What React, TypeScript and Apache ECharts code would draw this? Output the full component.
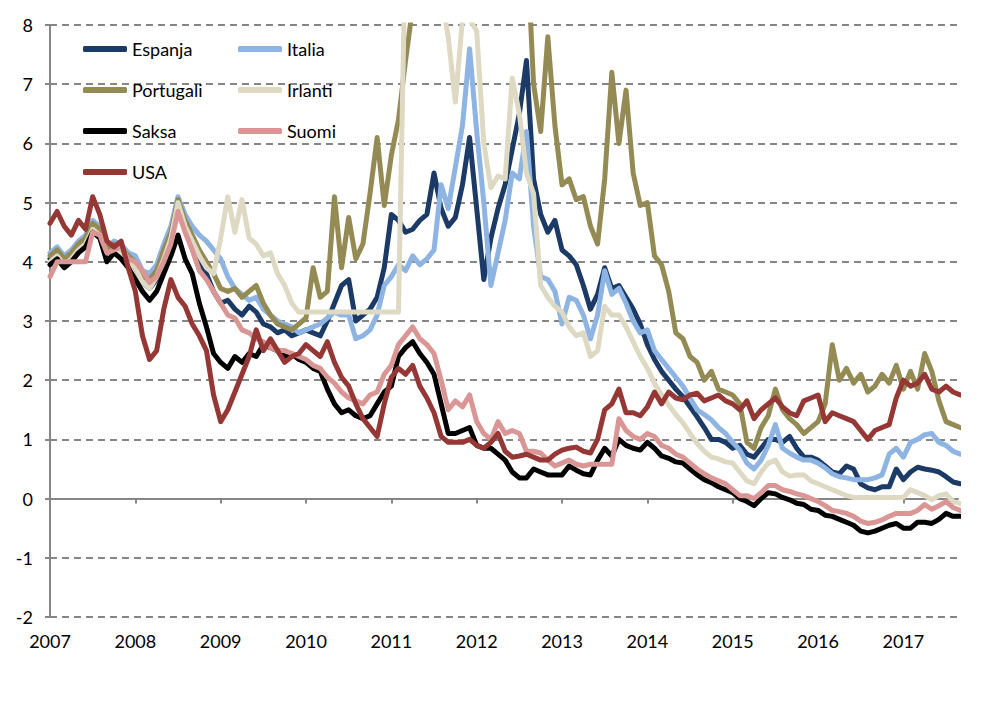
import React, { useEffect, useRef } from "react";
import * as echarts from "echarts";

// Monthly observation dates (decimal years), Jan 2007 .. Sep 2017
const months: number[] = Array.from({ length: 129 }, (_, i) => 2007 + i / 12);
const yearTicks: number[] = [2007, 2008, 2009, 2010, 2011, 2012, 2013, 2014, 2015, 2016, 2017];

const espanja: number[] = [
  4.05, 4.15, 4.0, 4.1, 4.25, 4.35, 4.6, 4.5, 4.1, 4.25, 4.15, 4.0,
  3.9, 3.65, 3.55, 3.7, 4.0, 4.35, 4.95, 4.55, 4.35, 4.0, 3.8, 3.5,
  3.3, 3.35, 3.2, 3.1, 3.25, 3.15, 2.95, 2.9, 2.8, 2.85, 2.75, 2.8,
  2.85, 2.8, 2.75, 3.0, 3.3, 3.6, 3.7, 3.0, 3.1, 3.2, 3.4, 3.9,
  4.8, 4.7, 4.5, 4.55, 4.7, 4.8, 5.5, 4.9, 4.6, 4.75, 5.3, 6.1,
  4.9, 3.7, 4.4, 4.9, 5.3, 5.9, 6.5, 7.4, 5.4, 4.8, 4.5, 4.7,
  4.2, 4.1, 3.95, 3.6, 3.2, 3.45, 3.9, 3.55, 3.6, 3.4, 3.2, 2.95,
  2.6, 2.35, 2.15, 2.0, 1.85, 1.72, 1.55, 1.38, 1.2, 1.0, 1.0, 0.95,
  0.85, 0.9, 0.75, 0.7, 0.85, 1.0, 1.0, 0.95, 1.05, 0.85, 0.7, 0.7,
  0.65, 0.55, 0.45, 0.42, 0.55, 0.5, 0.25, 0.18, 0.15, 0.2, 0.2, 0.5,
  0.32, 0.45, 0.53, 0.5, 0.48, 0.45, 0.37, 0.28, 0.25,
];

const italia: number[] = [
  4.15, 4.25, 4.1, 4.2, 4.35, 4.45, 4.7, 4.6, 4.25, 4.35, 4.3, 4.15,
  4.1, 3.85, 3.8, 3.95, 4.3, 4.6, 5.1, 4.8, 4.6, 4.45, 4.35, 4.2,
  4.05, 3.75, 3.55, 3.45, 3.35, 3.4, 3.2, 3.1, 3.0, 2.95, 2.9, 2.8,
  2.85, 2.9, 2.95, 3.05, 3.15, 3.1, 3.1, 2.7, 2.75, 2.85, 3.1, 3.6,
  3.75, 3.95, 3.85, 4.1, 3.95, 4.05, 4.2, 5.3, 4.9, 5.6, 6.3, 7.6,
  6.2, 5.0, 3.6, 4.15, 4.7, 5.5, 5.4, 6.2, 4.6, 3.75, 3.7, 3.5,
  2.95, 3.4, 3.35, 3.1, 2.7, 3.1, 3.85, 3.45, 3.55, 3.3, 3.0, 2.8,
  2.85, 2.5, 2.35, 2.2, 2.05, 1.9, 1.7, 1.5, 1.42, 1.33, 1.2, 1.1,
  0.95, 0.82, 0.6, 0.5, 0.65, 0.9, 1.25, 0.85, 0.77, 0.7, 0.65, 0.65,
  0.6, 0.52, 0.42, 0.37, 0.35, 0.32, 0.32, 0.32, 0.35, 0.4, 0.75, 0.85,
  0.7, 0.95, 1.0, 1.08, 1.1, 0.95, 0.9, 0.8, 0.75,
];

const portugali: number[] = [
  4.1, 4.2, 4.05, 4.15, 4.3, 4.4, 4.65, 4.55, 4.2, 4.3, 4.25, 4.1,
  4.0, 3.75, 3.7, 3.85, 4.2, 4.5, 5.05, 4.7, 4.45, 4.2, 4.0, 3.8,
  3.55, 3.5, 3.55, 3.4, 3.5, 3.6, 3.3, 3.1, 2.95, 2.9, 2.85, 2.95,
  3.05, 3.9, 3.4, 3.5, 5.1, 3.9, 4.75, 4.05, 4.3, 5.15, 6.1, 4.95,
  5.8, 6.4, 7.4, 8.3, 9.5, 10.5, 11, 12, 12, 12, 13, 13,
  14, 13, 12, 11, 11, 10, 11, 9.5, 7.0, 6.2, 7.8, 6.3,
  5.3, 5.4, 5.05, 5.1, 4.6, 4.3, 5.4, 7.2, 6.0, 6.9, 5.5, 4.95,
  5.0, 4.1, 3.95, 3.5, 2.8, 2.7, 2.4, 2.3, 2.0, 2.15, 1.85, 1.8,
  1.75, 1.6, 0.95, 0.85, 1.2, 1.4, 1.85, 1.5, 1.35, 1.25, 1.1, 1.2,
  1.3, 1.6, 2.6, 2.0, 2.2, 1.95, 2.1, 1.8, 1.9, 2.1, 1.95, 2.25,
  1.85, 2.15, 1.85, 2.45, 2.15, 1.65, 1.3, 1.25, 1.2,
];

const irlanti: number[] = [
  4.0, 4.1, 3.95, 4.05, 4.2, 4.3, 4.55, 4.45, 4.1, 4.2, 4.15, 4.0,
  3.9, 3.65, 3.55, 3.75, 4.05, 4.4, 5.0, 4.6, 4.35, 4.1, 3.9, 3.8,
  4.4, 5.1, 4.5, 5.05, 4.4, 4.3, 4.1, 4.15, 3.8, 3.6, 3.3, 3.15,
  3.15, 3.15, 3.15, 3.15, 3.15, 3.15, 3.15, 3.15, 3.15, 3.15, 3.15, 3.15,
  3.15, 3.15, 9.5, 10, 11, 12, 11, 8.5, 7.8, 6.7, 8.1, 8.1,
  7.9, 6.0, 5.25, 5.45, 5.4, 7.1, 6.5, 5.5, 5.15, 3.6, 3.4, 3.25,
  3.15, 2.9, 2.75, 2.8, 2.4, 2.5, 3.25, 3.1, 3.1, 2.9, 2.65, 2.4,
  2.2, 1.95, 1.75, 1.58, 1.42, 1.28, 1.1, 0.93, 0.8, 0.7, 0.67, 0.62,
  0.6, 0.45, 0.3, 0.25, 0.45, 0.6, 0.65, 0.45, 0.38, 0.4, 0.4, 0.3,
  0.25, 0.2, 0.15, 0.1, 0.05, 0.02, 0.02, 0.02, 0.02, 0.02, 0.02, 0.02,
  0.02, 0.15, 0.1, 0.05, -0.02, 0.05, 0.08, -0.05, -0.08,
];

const saksa: number[] = [
  3.95, 4.05, 3.9, 4.0, 4.15, 4.25, 4.5, 4.4, 4.0, 4.15, 4.05, 3.9,
  3.7, 3.5, 3.35, 3.5, 3.8, 4.1, 4.45, 4.05, 3.8, 3.3, 2.9, 2.45,
  2.3, 2.2, 2.4, 2.3, 2.45, 2.4, 2.6, 2.55, 2.5, 2.4, 2.45, 2.35,
  2.3, 2.2, 2.15, 1.85, 1.6, 1.45, 1.5, 1.4, 1.35, 1.4, 1.6, 1.8,
  1.9, 2.4, 2.55, 2.65, 2.45, 2.3, 2.1, 1.6, 1.1, 1.1, 1.15, 1.2,
  0.9, 0.85, 0.85, 0.75, 0.65, 0.45, 0.35, 0.35, 0.5, 0.45, 0.4, 0.4,
  0.4, 0.55, 0.48, 0.42, 0.4, 0.65, 0.85, 0.72, 1.0, 0.9, 0.85, 0.82,
  0.95, 0.85, 0.72, 0.68, 0.62, 0.6, 0.5, 0.4, 0.32, 0.27, 0.2, 0.15,
  0.1, 0.0, -0.05, -0.12, 0.0, 0.1, 0.08, 0.02, -0.02, -0.08, -0.1, -0.18,
  -0.2, -0.28, -0.3, -0.35, -0.4, -0.45, -0.55, -0.58, -0.55, -0.5, -0.45, -0.42,
  -0.5, -0.5, -0.4, -0.4, -0.42, -0.35, -0.25, -0.3, -0.3,
];

const suomi: number[] = [
  3.75, 4.0, 4.0, 4.0, 4.0, 4.0, 4.5, 4.45, 4.15, 4.2, 4.25, 4.05,
  4.0, 3.85, 3.65, 3.75, 4.0, 4.3, 4.85, 4.5, 4.2, 3.85, 3.7, 3.5,
  3.3, 3.1, 3.05, 2.85, 2.8, 2.7, 2.65, 2.55, 2.5, 2.5, 2.45, 2.4,
  2.35, 2.25, 2.2, 2.05, 1.95, 1.8, 1.7, 1.65, 1.6, 1.75, 1.8, 2.1,
  2.25, 2.6, 2.75, 2.9, 2.7, 2.6, 2.45, 2.0, 1.5, 1.65, 1.55, 1.75,
  1.3, 1.1, 1.0, 1.3, 1.1, 1.15, 1.1, 0.8, 0.8, 0.77, 0.65, 0.55,
  0.6, 0.65, 0.58, 0.55, 0.58, 0.58, 0.58, 0.58, 1.35, 1.15, 1.05, 1.0,
  1.1, 1.05, 0.9, 0.85, 0.75, 0.7, 0.6, 0.5, 0.42, 0.35, 0.3, 0.25,
  0.15, 0.05, 0.05, 0.0, 0.1, 0.22, 0.22, 0.15, 0.12, 0.08, 0.05, 0.0,
  -0.05, -0.12, -0.2, -0.22, -0.25, -0.3, -0.38, -0.42, -0.4, -0.36, -0.3, -0.25,
  -0.25, -0.25, -0.2, -0.1, -0.18, -0.12, -0.05, -0.15, -0.2,
];

const usa: number[] = [
  4.65, 4.85, 4.6, 4.45, 4.7, 4.55, 5.1, 4.8, 4.35, 4.25, 4.35, 3.9,
  3.5, 2.75, 2.35, 2.5, 3.2, 3.7, 3.4, 3.25, 2.95, 2.75, 2.5, 1.75,
  1.3, 1.5, 1.8, 2.1, 2.4, 2.85, 2.5, 2.7, 2.5, 2.3, 2.4, 2.45,
  2.6, 2.5, 2.4, 2.65, 2.3, 2.05, 1.9, 1.6, 1.35, 1.2, 1.05, 1.6,
  2.05, 2.2, 2.1, 2.25, 1.9, 1.7, 1.45, 1.05, 0.95, 0.95, 0.95, 1.0,
  0.9, 0.85, 0.95, 1.1, 0.8, 0.7, 0.72, 0.75, 0.7, 0.65, 0.65, 0.75,
  0.82, 0.85, 0.87, 0.8, 0.77, 1.0, 1.5, 1.6, 1.85, 1.45, 1.45, 1.4,
  1.55, 1.8, 1.6, 1.8, 1.7, 1.67, 1.75, 1.78, 1.65, 1.7, 1.75, 1.65,
  1.6, 1.5, 1.65, 1.35, 1.5, 1.6, 1.7, 1.55, 1.45, 1.4, 1.65, 1.7,
  1.75, 1.3, 1.45, 1.4, 1.35, 1.3, 1.15, 1.0, 1.15, 1.2, 1.25, 1.7,
  2.0, 1.9, 1.95, 2.1, 1.85, 1.8, 1.9, 1.8, 1.75,
];

const seriesNames: string[] = ["Espanja", "Italia", "Portugali", "Irlanti", "Saksa", "Suomi", "USA"];
const seriesValues: number[][] = [espanja, italia, portugali, irlanti, saksa, suomi, usa];
const seriesColors: string[] = ["#1B3A66", "#8DB4E2", "#948A54", "#DDD9C3", "#000000", "#DA9694", "#953735"];

const FONT = "Lato, 'Open Sans', 'DejaVu Sans', sans-serif";
const GRID_COLOR = "#868686";

export default function App() {
  const ref = useRef<HTMLDivElement>(null);

  useEffect(() => {
    if (!ref.current) return;
    const chart = echarts.init(ref.current, null, { renderer: "svg" });

    const series = seriesNames.map((name, k) => ({
      name,
      type: "line",
      xAxisIndex: 0,
      yAxisIndex: 0,
      data: months.map((x, i) => [x, seriesValues[k][i]]),
      showSymbol: false,
      symbol: "none",
      clip: true,
      silent: true,
      lineStyle: { color: seriesColors[k], width: 5, join: "round", cap: "round" },
      itemStyle: { color: seriesColors[k] },
    }));

    const legendBase = {
      orient: "vertical",
      top: 39,
      itemWidth: 44,
      itemHeight: 6,
      icon: "roundRect",
      itemGap: 21,
      padding: 0,
      selectedMode: false,
      textStyle: { fontSize: 18, fontFamily: FONT, color: "#000", lineHeight: 20 },
    };

    chart.setOption({
      animation: false,
      backgroundColor: "#ffffff",
      grid: { left: 50, right: 30, top: 25, bottom: 91 },
      legend: [
        { ...legendBase, left: 83, data: ["Espanja", "Portugali", "Saksa", "USA"] },
        { ...legendBase, left: 238, data: ["Italia", "Irlanti", "Suomi"] },
      ],
      xAxis: [
        {
          type: "value",
          position: "bottom",
          min: 2007,
          max: 2017.64,
          axisLine: { show: true, onZero: true, lineStyle: { color: GRID_COLOR, width: 2 } },
          axisTick: { show: true, length: 5, customValues: yearTicks, lineStyle: { color: GRID_COLOR, width: 2 } },
          axisLabel: { show: false },
          splitLine: { show: false },
        },
        {
          type: "value",
          position: "bottom",
          min: 2007,
          max: 2017.64,
          axisLine: { show: false, onZero: false },
          axisTick: { show: false },
          axisLabel: {
            show: true,
            customValues: yearTicks,
            formatter: (v: number) => String(Math.round(v)),
            color: "#000",
            fontSize: 18,
            fontFamily: FONT,
            margin: 15,
          },
          splitLine: { show: false },
        },
      ],
      yAxis: {
        type: "value",
        min: -2,
        max: 8,
        interval: 1,
        axisLine: { show: true, lineStyle: { color: GRID_COLOR, width: 2 } },
        axisTick: { show: true, length: 5, lineStyle: { color: GRID_COLOR, width: 2 } },
        axisLabel: { color: "#000", fontSize: 18, fontFamily: FONT, margin: 17 },
        splitLine: { show: true, lineStyle: { color: GRID_COLOR, width: 2, type: [7, 5] } },
      },
      series,
    });

    return () => chart.dispose();
  }, []);

  return (
    <div
      ref={ref}
      style={{ position: "fixed", left: 0, top: 0, width: 988, height: 708, background: "#fff" }}
    />
  );
}
